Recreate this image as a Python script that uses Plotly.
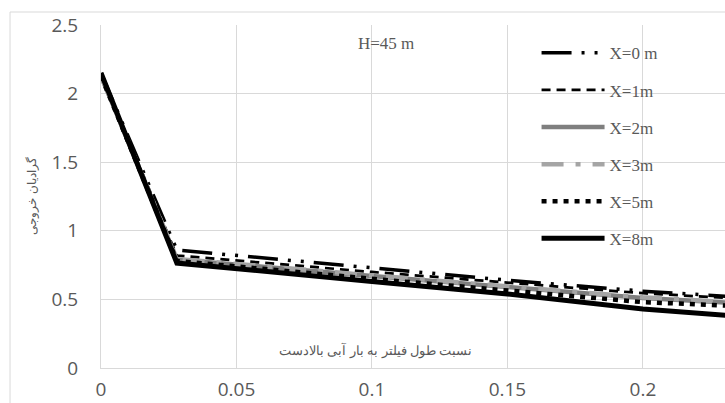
import plotly.graph_objects as go

# Filter length / upstream head ratio
ratio = [0, 0.028, 0.1, 0.15, 0.2, 0.25]

# Exit gradient for each distance X
series_names = ["X=0 m", "X=1m", "X=2m", "X=3m", "X=5m", "X=8m"]
grad_x0 = [2.15, 0.86, 0.73, 0.64, 0.56, 0.50]
grad_x1 = [2.14, 0.82, 0.70, 0.62, 0.545, 0.49]
grad_x2 = [2.13, 0.79, 0.67, 0.59, 0.51, 0.455]
grad_x3 = [2.13, 0.795, 0.675, 0.595, 0.515, 0.46]
grad_x5 = [2.13, 0.78, 0.65, 0.565, 0.48, 0.44]
grad_x8 = [2.15, 0.765, 0.63, 0.54, 0.43, 0.355]

x_ticks = [0, 0.05, 0.1, 0.15, 0.2]
y_ticks = [0, 0.5, 1, 1.5, 2, 2.5]

styles = [
    dict(color="#000000", width=3.5, dash="30px,10px,3px,10px,3px,10px"),
    dict(color="#000000", width=2.75, dash="9px,6px"),
    dict(color="#7F7F7F", width=4.5, dash="solid"),
    dict(color="#A5A5A5", width=4.5, dash="22px,12px,5px,12px"),
    dict(color="#000000", width=4.5, dash="5px,6px"),
    dict(color="#000000", width=5, dash="solid"),
]
values = [grad_x0, grad_x1, grad_x2, grad_x3, grad_x5, grad_x8]

fig = go.Figure()
for i, (name, ys, st) in enumerate(zip(series_names, values, styles)):
    fig.add_trace(go.Scatter(
        x=ratio, y=ys, mode="lines", name=name,
        line=st, legendgroup=f"g{i}",
    ))

grid = "#D9D9D9"
text_grey = "#595959"
tick_font = dict(family="Open Sans", size=19, color=text_grey)
serif = "Liberation Serif"

fig.update_layout(
    width=725, height=403,
    margin=dict(l=101, r=0, t=25, b=35, autoexpand=False),
    paper_bgcolor="white", plot_bgcolor="white",
    showlegend=True,
    legend=dict(
        x=0.698, y=0.97, xanchor="left", yanchor="top",
        font=dict(family=serif, size=17, color=text_grey),
        itemwidth=63, tracegroupgap=12, bgcolor="rgba(0,0,0,0)",
    ),
    xaxis=dict(
        range=[0, 0.2303], tickvals=x_ticks, ticktext=[str(v) for v in x_ticks],
        showgrid=True, gridcolor=grid, gridwidth=1, zeroline=False,
        showline=True, linecolor=grid, linewidth=1, automargin=False,
        tickfont=tick_font, ticks="", ticklabelstandoff=4,
    ),
    yaxis=dict(
        range=[0, 2.5], tickvals=y_ticks, ticktext=[str(v) for v in y_ticks],
        showgrid=True, gridcolor=grid, gridwidth=1, zeroline=False,
        showline=True, linecolor=grid, linewidth=1, automargin=False,
        tickfont=tick_font, ticks="", ticklabelstandoff=18,
    ),
    shapes=[dict(
        type="rect", xref="paper", yref="paper",
        x0=-0.1458, x1=1.2, y0=-0.3, y1=1.0379,
        line=dict(color=grid, width=1), fillcolor="rgba(0,0,0,0)", layer="below",
    )],
    annotations=[
        dict(text="گرادیان خروجی", xref="paper", yref="paper", x=-0.112, y=0.5,
             xanchor="center", yanchor="middle",
             textangle=-90, showarrow=False,
             font=dict(family="Noto Sans", size=12, color=text_grey)),
        dict(text="نسبت طول فیلتر به بار آبی بالادست", xref="paper", yref="paper",
             x=0.4407, y=0.0525, xanchor="center", yanchor="middle", showarrow=False,
             font=dict(family="Noto Sans", size=13, color=text_grey)),
        dict(text="H=45 m", xref="paper", yref="paper", x=0.4567, y=0.9475,
             xanchor="center", yanchor="middle",
             showarrow=False, font=dict(family=serif, size=17, color=text_grey)),
    ],
)

fig.write_html("out.html")
